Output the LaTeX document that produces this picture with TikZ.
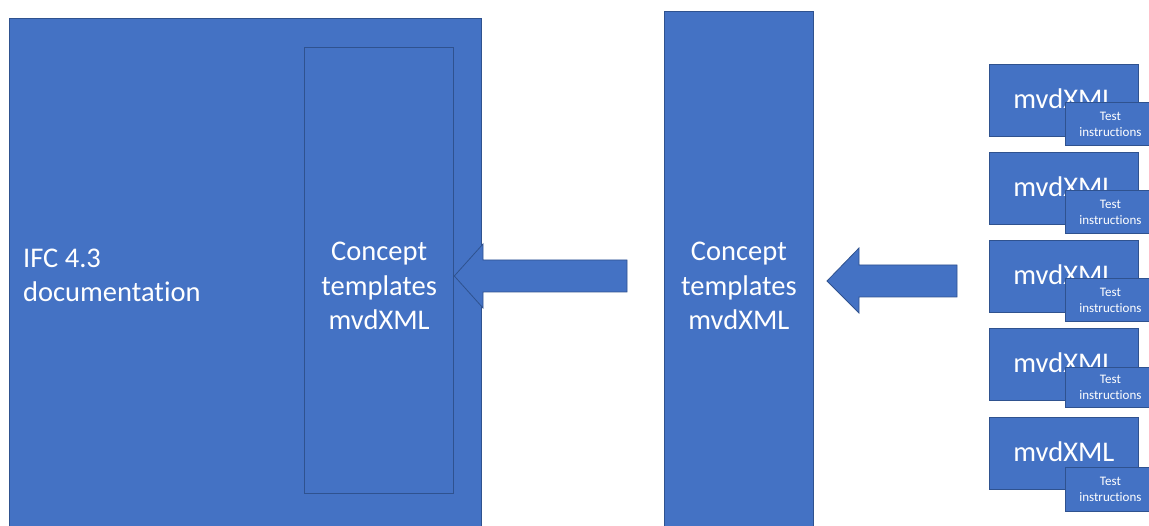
\documentclass[tikz,border=0pt]{standalone}
\usepackage{fontspec}
\setmainfont{Carlito}[Ligatures=NoCommon]
\definecolor{boxblue}{HTML}{4472C4}
\definecolor{edgeblue}{HTML}{2F528F}
\tikzset{
  block/.style={draw=edgeblue, fill=boxblue, line width=0.8pt, inner sep=0pt},
  bigtext/.style={text=white, font=\fontsize{28.5}{34.5}\selectfont, inner sep=0pt},
  smalltext/.style={text=white, font=\fontsize{13}{16}\selectfont, align=center, inner sep=0pt},
}
\begin{document}
\begin{tikzpicture}[x=1pt,y=-1pt]
  \useasboundingbox (0,0) rectangle (1149,526);
  \clip (0,0) rectangle (1149,526);
  % left: documentation with embedded templates
  \node[block, anchor=north west, minimum width=472pt, minimum height=520pt] (doc) at (9,18) {};
  \node[block, line width=1.3pt, anchor=north west, minimum width=149pt, minimum height=446pt] (inner) at (304,47) {};
  \node[bigtext, anchor=base west, align=left] (doclbl) at (23,302) {IFC 4.3\\documentation};
  \node[bigtext, anchor=base, align=center] (innerlbl) at (inner.center |- 0,330) {Concept\\templates\\mvdXML};
  % middle: concept templates
  \node[block, anchor=north west, minimum width=149pt, minimum height=530pt] (mid) at (664,11) {};
  \node[bigtext, anchor=base, align=center] (midlbl) at (mid.center |- 0,330) {Concept\\templates\\mvdXML};
  % block arrows
  \draw[block] (inner.east |- 0,276) -- (483,244) -- (483,260) -- (627,260)
    -- (627,292) -- (483,292) -- (483,308) -- cycle;
  \draw[block] (827,281) -- (859,248) -- (859,265) -- (957,265)
    -- (957,297) -- (859,297) -- (859,313) -- cycle;
  % right: mvdXML files with test instructions
  \foreach \i/\top/\ttop/\th in {1/64/102/43, 2/152/190/43, 3/240/278/43, 4/328/367/40, 5/417/467/44} {
    \node[block, anchor=north west, minimum width=149pt, minimum height=72pt] (mvd\i) at (989,\top) {};
    \node[bigtext, anchor=base] (mvdlbl\i) at (mvd\i.center |- 0,\top+45) {mvdXML};
    \node[block, smalltext, anchor=north west, minimum width=90pt, minimum height=\th pt] (test\i) at (1065,\ttop) {Test\\instructions};
  }
\end{tikzpicture}
\end{document}
